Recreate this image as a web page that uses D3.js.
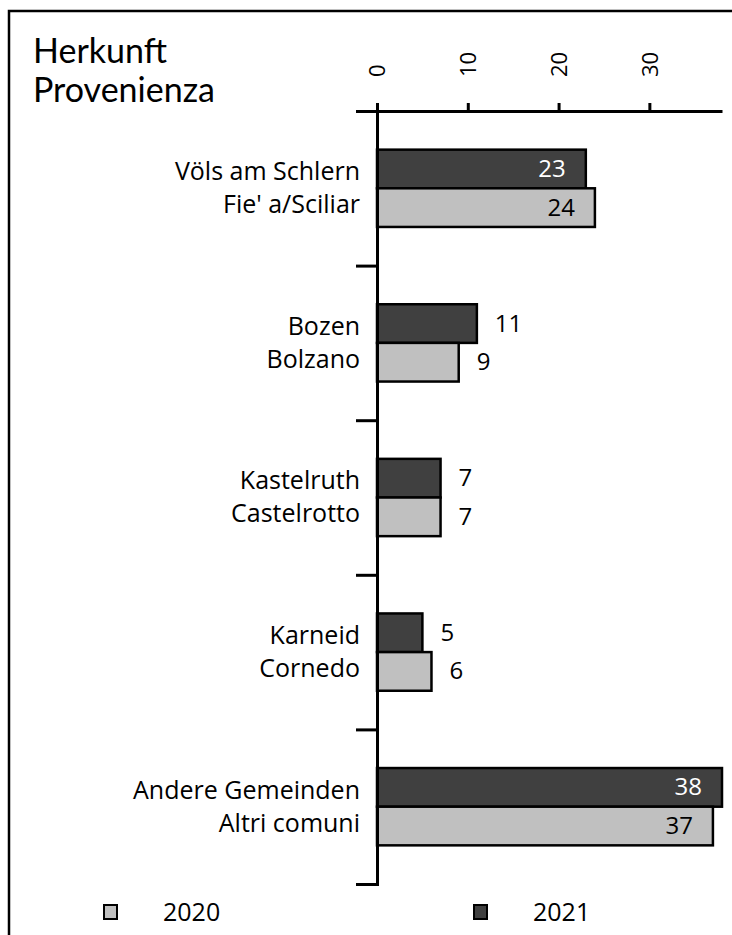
<!DOCTYPE html>
<html>
<head>
<meta charset="utf-8">
<script src="https://cdn.jsdelivr.net/npm/d3@7"></script>
<style>
  body { margin: 0; background: #fff; }
  svg text { font-family: "Open Sans", sans-serif; fill: #000; }
</style>
</head>
<body>
<div id="chart"></div>
<script>
// categories, two lines each (German / Italian)
var categories = ["Völs am Schlern", "Bozen", "Kastelruth", "Karneid", "Andere Gemeinden"];
var categoriesIt = ["Fie' a/Sciliar", "Bolzano", "Castelrotto", "Cornedo", "Altri comuni"];
var years = ["2021", "2020"];
var values2021 = [23, 11, 7, 5, 38];
var values2020 = [24, 9, 7, 6, 37];
var xTicks = [0, 10, 20, 30];

var width = 732, height = 935;
var colors = { "2021": "#404040", "2020": "#c0c0c0" };

var svg = d3.select("#chart").append("svg")
    .attr("width", width)
    .attr("height", height);

// frame (right/bottom edges run off the page)
svg.append("rect")
    .attr("x", 9).attr("y", 11)
    .attr("width", 740).attr("height", 940)
    .attr("fill", "none")
    .attr("stroke", "#000")
    .attr("stroke-width", 2.5);

var x = d3.scaleLinear().domain([0, 38]).range([377, 722]);
var y = d3.scaleBand().domain(categories).range([111, 884])
    .paddingInner(0.5).paddingOuter(0.25);
var yInner = d3.scaleBand().domain(years).range([0, y.bandwidth()]);
// boundaries between categories
var yEdge = d3.scaleLinear().domain([0, categories.length]).range([111, 884]);

// title
svg.append("text").attr("x", 33).attr("y", 63)
    .style("font-family", "Lato, sans-serif")
    .style("font-size", "34px").text("Herkunft");
svg.append("text").attr("x", 33).attr("y", 102)
    .style("font-family", "Lato, sans-serif")
    .style("font-size", "34px").text("Provenienza");

// bars
var rows = categories.map(function(c, i) {
    return { cat: c, it: categoriesIt[i], "2021": values2021[i], "2020": values2020[i] };
});

var groups = svg.append("g").selectAll("g")
    .data(rows)
    .enter().append("g")
    .attr("transform", function(d) { return "translate(0," + y(d.cat) + ")"; });

groups.selectAll("rect")
    .data(function(d) { return years.map(function(k) { return { key: k, value: d[k] }; }); })
    .enter().append("rect")
    .attr("x", x(0))
    .attr("y", function(d) { return yInner(d.key); })
    .attr("width", function(d) { return x(d.value) - x(0); })
    .attr("height", yInner.bandwidth())
    .attr("fill", function(d) { return colors[d.key]; })
    .attr("stroke", "#000")
    .attr("stroke-width", 2.5);

groups.selectAll("text.val")
    .data(function(d) { return years.map(function(k) { return { key: k, value: d[k] }; }); })
    .enter().append("text")
    .attr("class", "val")
    .attr("x", function(d) { return d.value >= 20 ? x(d.value) - 20 : x(d.value) + 18; })
    .attr("y", function(d) { return yInner(d.key) + yInner.bandwidth() / 2 + 8; })
    .attr("text-anchor", function(d) { return d.value >= 20 ? "end" : "start"; })
    .style("font-size", "24px")
    .style("fill", function(d) { return (d.value >= 20 && d.key == "2021") ? "#fff" : "#000"; })
    .text(function(d) { return d.value; });

// category labels
var c = y.bandwidth() / 2;
groups.append("text")
    .attr("x", 360).attr("y", c - 8)
    .attr("text-anchor", "end")
    .style("font-size", "25px")
    .text(function(d) { return d.cat; });
groups.append("text")
    .attr("x", 360).attr("y", c + 25)
    .attr("text-anchor", "end")
    .style("font-size", "25px")
    .text(function(d) { return d.it; });

// axes
var yAxis = d3.axisLeft(yEdge).tickValues([1, 2, 3, 4])
    .tickSizeInner(21).tickSizeOuter(21).tickFormat("");
svg.append("g")
    .attr("transform", "translate(" + x(0) + ",0)")
    .call(yAxis)
    .call(function(g) {
        g.selectAll("path, line").attr("stroke", "#000").attr("stroke-width", 3);
    });

var xAxis = d3.axisTop(x).tickValues(xTicks).tickSizeInner(8).tickSizeOuter(0);
svg.append("g")
    .attr("transform", "translate(0,111)")
    .call(xAxis)
    .call(function(g) {
        g.selectAll("path, line").attr("stroke", "#000").attr("stroke-width", 3);
        g.selectAll("text")
            .attr("transform", "rotate(-90)")
            .attr("x", 34).attr("y", 0).attr("dy", "0.35em")
            .attr("text-anchor", "start")
            .style("font-size", "22px")
            .style("font-family", "'Open Sans', sans-serif");
    });

// legend
var legendX = { "2020": 104, "2021": 474 };
var legend = svg.append("g").selectAll("g")
    .data(["2020", "2021"])
    .enter().append("g")
    .attr("transform", function(d) { return "translate(" + legendX[d] + ",905)"; });
legend.append("rect")
    .attr("width", 13).attr("height", 14)
    .attr("fill", function(d) { return colors[d]; })
    .attr("stroke", "#000").attr("stroke-width", 2);
legend.append("text")
    .attr("x", 59).attr("y", 16)
    .style("font-size", "25px")
    .text(function(d) { return d; });
</script>
</body>
</html>
